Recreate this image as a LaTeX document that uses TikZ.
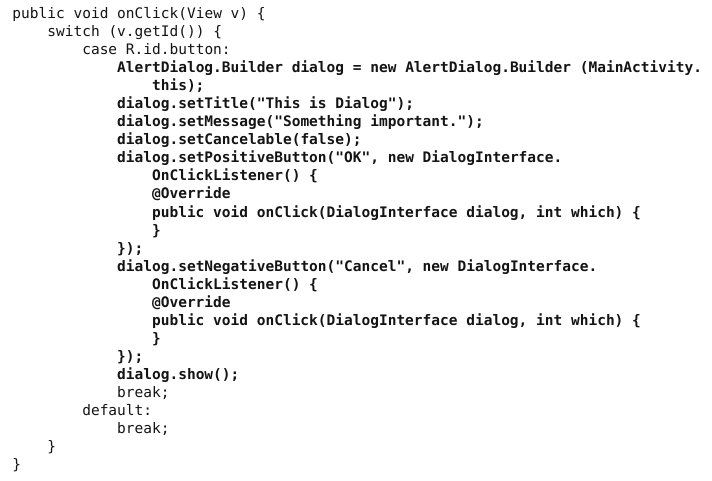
\documentclass[tikz,border=0pt]{standalone}
\usepackage{fontspec}
\setmonofont{DejaVu Sans Mono}
\begin{document}
\begin{tikzpicture}[x=1pt,y=-1pt,
  code/.style={anchor=base west,inner sep=0pt,outer sep=0pt,text=black!92,
    font=\ttfamily\fontsize{14.5}{18}\selectfont},
  bcode/.style={code,font=\ttfamily\bfseries\fontsize{14.5}{18}\selectfont}]
\useasboundingbox[fill=white] (0,0) rectangle (712,481);
\def\lx#1{12.5+34.9*#1}
\def\ly#1{18.6+18.04*#1}
\node[code]  (l0)  at ({\lx0},{\ly0})  {public void onClick(View v) \{};
\node[code]  (l1)  at ({\lx1},{\ly1})  {switch (v.getId()) \{};
\node[code]  (l2)  at ({\lx2},{\ly2})  {case R.id.button:};
\node[bcode] (l3)  at ({\lx3},{\ly3})  {AlertDialog.Builder dialog = new AlertDialog.Builder (MainActivity.};
\node[bcode] (l4)  at ({\lx4},{\ly4})  {this);};
\node[bcode] (l5)  at ({\lx3},{\ly5})  {dialog.setTitle("This is Dialog");};
\node[bcode] (l6)  at ({\lx3},{\ly6})  {dialog.setMessage("Something important.");};
\node[bcode] (l7)  at ({\lx3},{\ly7})  {dialog.setCancelable(false);};
\node[bcode] (l8)  at ({\lx3},{\ly8})  {dialog.setPositiveButton("OK", new DialogInterface.};
\node[bcode] (l9)  at ({\lx4},{\ly9})  {OnClickListener() \{};
\node[bcode] (l10) at ({\lx4},{\ly10}) {@Override};
\node[bcode] (l11) at ({\lx4},{\ly11}) {public void onClick(DialogInterface dialog, int which) \{};
\node[bcode] (l12) at ({\lx4},{\ly12}) {\}};
\node[bcode] (l13) at ({\lx3},{\ly13}) {\});};
\node[bcode] (l14) at ({\lx3},{\ly14}) {dialog.setNegativeButton("Cancel", new DialogInterface.};
\node[bcode] (l15) at ({\lx4},{\ly15}) {OnClickListener() \{};
\node[bcode] (l16) at ({\lx4},{\ly16}) {@Override};
\node[bcode] (l17) at ({\lx4},{\ly17}) {public void onClick(DialogInterface dialog, int which) \{};
\node[bcode] (l18) at ({\lx4},{\ly18}) {\}};
\node[bcode] (l19) at ({\lx3},{\ly19}) {\});};
\node[bcode] (l20) at ({\lx3},{\ly20}) {dialog.show();};
\node[code]  (l21) at ({\lx3},{\ly21}) {break;};
\node[code]  (l22) at ({\lx2},{\ly22}) {default:};
\node[code]  (l23) at ({\lx3},{\ly23}) {break;};
\node[code]  (l24) at ({\lx1},{\ly24}) {\}};
\node[code]  (l25) at ({\lx0},{\ly25}) {\}};
\end{tikzpicture}
\end{document}
